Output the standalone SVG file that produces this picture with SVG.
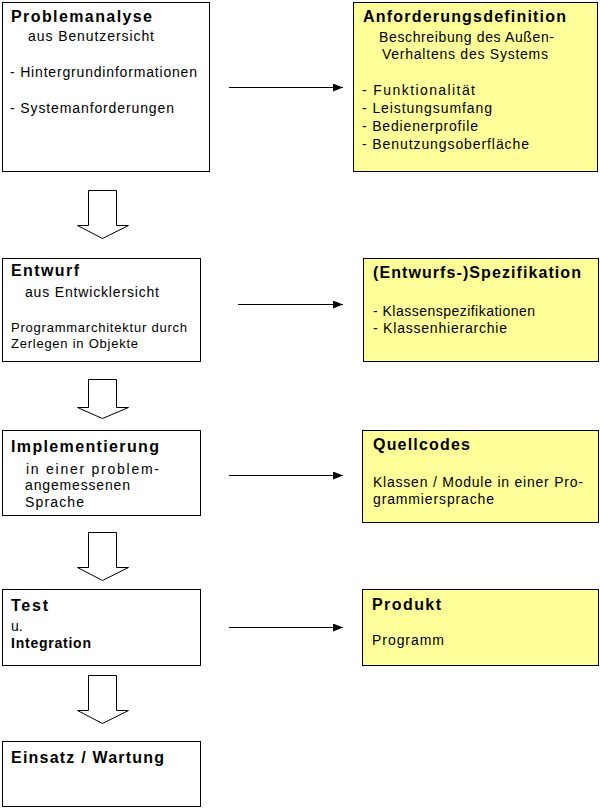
<svg xmlns="http://www.w3.org/2000/svg" width="600" height="808" viewBox="0 0 600 808">
  <style>
    .box { fill: #ffffff; stroke: #000000; stroke-width: 1; }
    .ybox { fill: #ffff99; stroke: #000000; stroke-width: 1; }
    .hollow { fill: #ffffff; stroke: #000000; stroke-width: 1; stroke-linejoin: miter; }
    .conn { stroke: #000000; stroke-width: 1; fill: none; }
    text { font-family: "Liberation Sans", Arial, sans-serif; fill: #000000; }
    .t { font-size: 16px; font-weight: bold; }
    .b { font-size: 14px; }
    .s { font-size: 13px; }
    .m { font-size: 14px; font-weight: bold; }
  </style>
  <defs>
    <marker id="ah" markerWidth="10" markerHeight="8" refX="10" refY="4" orient="auto" markerUnits="userSpaceOnUse">
      <path d="M0,0 L10,4 L0,8 Z" fill="#000000"/>
    </marker>
  </defs>

  <rect width="600" height="808" fill="#ffffff"/>

  <g id="connectors">
    <line class="conn" x1="229" y1="87.5" x2="343" y2="87.5" marker-end="url(#ah)"/>
    <line class="conn" x1="238" y1="304.5" x2="343" y2="304.5" marker-end="url(#ah)"/>
    <line class="conn" x1="229" y1="475.5" x2="343" y2="475.5" marker-end="url(#ah)"/>
    <line class="conn" x1="229" y1="627.5" x2="343" y2="627.5" marker-end="url(#ah)"/>
    <polygon class="hollow" points="88.5,190.5 116.5,190.5 116.5,225.5 128.5,225.5 102.5,238.5 77.5,225.5 88.5,225.5"/>
    <polygon class="hollow" points="88.5,379.5 116.5,379.5 116.5,407.5 128.5,407.5 102.5,418.5 77.5,407.5 88.5,407.5"/>
    <polygon class="hollow" points="88.5,532.5 116.5,532.5 116.5,567.5 128.5,567.5 102.5,580.5 77.5,567.5 88.5,567.5"/>
    <polygon class="hollow" points="88.5,675.5 116.5,675.5 116.5,710.5 128.5,710.5 102.5,723.5 77.5,710.5 88.5,710.5"/>
  </g>

  <g id="problemanalyse">
    <rect class="box" x="2.5" y="2.5" width="207" height="169"/>
    <text class="t" x="11" y="22" textLength="141" lengthAdjust="spacing">Problemanalyse</text>
    <text class="b" x="28" y="41" textLength="126" lengthAdjust="spacing">aus Benutzersicht</text>
    <text class="b" x="10" y="77" textLength="187" lengthAdjust="spacing">- Hintergrundinformationen</text>
    <text class="b" x="10" y="113" textLength="164" lengthAdjust="spacing">- Systemanforderungen</text>
  </g>

  <g id="anforderungsdefinition">
    <rect class="ybox" x="353.5" y="2.5" width="244" height="169"/>
    <text class="t" x="363" y="22" textLength="203" lengthAdjust="spacing">Anforderungsdefinition</text>
    <text class="b" x="379" y="42" textLength="175" lengthAdjust="spacing">Beschreibung des Außen-</text>
    <text class="b" x="382" y="59" textLength="166" lengthAdjust="spacing">Verhaltens des Systems</text>
    <text class="b" x="362" y="95" textLength="113" lengthAdjust="spacing">- Funktionalität</text>
    <text class="b" x="362" y="113" textLength="130" lengthAdjust="spacing">- Leistungsumfang</text>
    <text class="b" x="362" y="131" textLength="116" lengthAdjust="spacing">- Bedienerprofile</text>
    <text class="b" x="362" y="149" textLength="167" lengthAdjust="spacing">- Benutzungsoberfläche</text>
  </g>

  <g id="entwurf">
    <rect class="box" x="2.5" y="258.5" width="198" height="103"/>
    <text class="t" x="11" y="276" textLength="68" lengthAdjust="spacing">Entwurf</text>
    <text class="b" x="25" y="297" textLength="134" lengthAdjust="spacing">aus Entwicklersicht</text>
    <text class="s" x="11" y="332" textLength="176" lengthAdjust="spacing">Programmarchitektur durch</text>
    <text class="s" x="11" y="348" textLength="127" lengthAdjust="spacing">Zerlegen in Objekte</text>
  </g>

  <g id="spezifikation">
    <rect class="ybox" x="363.5" y="258.5" width="235" height="103"/>
    <text class="t" x="373" y="278" textLength="208" lengthAdjust="spacing">(Entwurfs-)Spezifikation</text>
    <text class="b" x="373" y="316" textLength="162" lengthAdjust="spacing">- Klassenspezifikationen</text>
    <text class="b" x="373" y="333" textLength="134" lengthAdjust="spacing">- Klassenhierarchie</text>
  </g>

  <g id="implementierung">
    <rect class="box" x="2.5" y="430.5" width="198" height="85"/>
    <text class="t" x="11" y="452" textLength="148" lengthAdjust="spacing">Implementierung</text>
    <text class="b" x="26" y="474" textLength="133" lengthAdjust="spacing">in einer problem-</text>
    <text class="b" x="25" y="490" textLength="105" lengthAdjust="spacing">angemessenen</text>
    <text class="b" x="25" y="507" textLength="59" lengthAdjust="spacing">Sprache</text>
  </g>

  <g id="quellcodes">
    <rect class="ybox" x="362.5" y="430.5" width="236" height="92"/>
    <text class="t" x="373" y="450" textLength="97" lengthAdjust="spacing">Quellcodes</text>
    <text class="b" x="373" y="487" textLength="210" lengthAdjust="spacing">Klassen / Module in einer Pro-</text>
    <text class="b" x="373" y="504" textLength="121" lengthAdjust="spacing">grammiersprache</text>
  </g>

  <g id="test">
    <rect class="box" x="2.5" y="589.5" width="198" height="76"/>
    <text class="t" x="11" y="611" textLength="37" lengthAdjust="spacing">Test</text>
    <text class="b" x="11" y="631">u.</text>
    <text class="m" x="11" y="648" textLength="80" lengthAdjust="spacing">Integration</text>
  </g>

  <g id="produkt">
    <rect class="ybox" x="362.5" y="589.5" width="236" height="76"/>
    <text class="t" x="372" y="610" textLength="69" lengthAdjust="spacing">Produkt</text>
    <text class="b" x="372" y="645" textLength="72" lengthAdjust="spacing">Programm</text>
  </g>

  <g id="einsatz">
    <rect class="box" x="2.5" y="741.5" width="198" height="65"/>
    <text class="t" x="11" y="763" textLength="153" lengthAdjust="spacing">Einsatz / Wartung</text>
  </g>
</svg>
